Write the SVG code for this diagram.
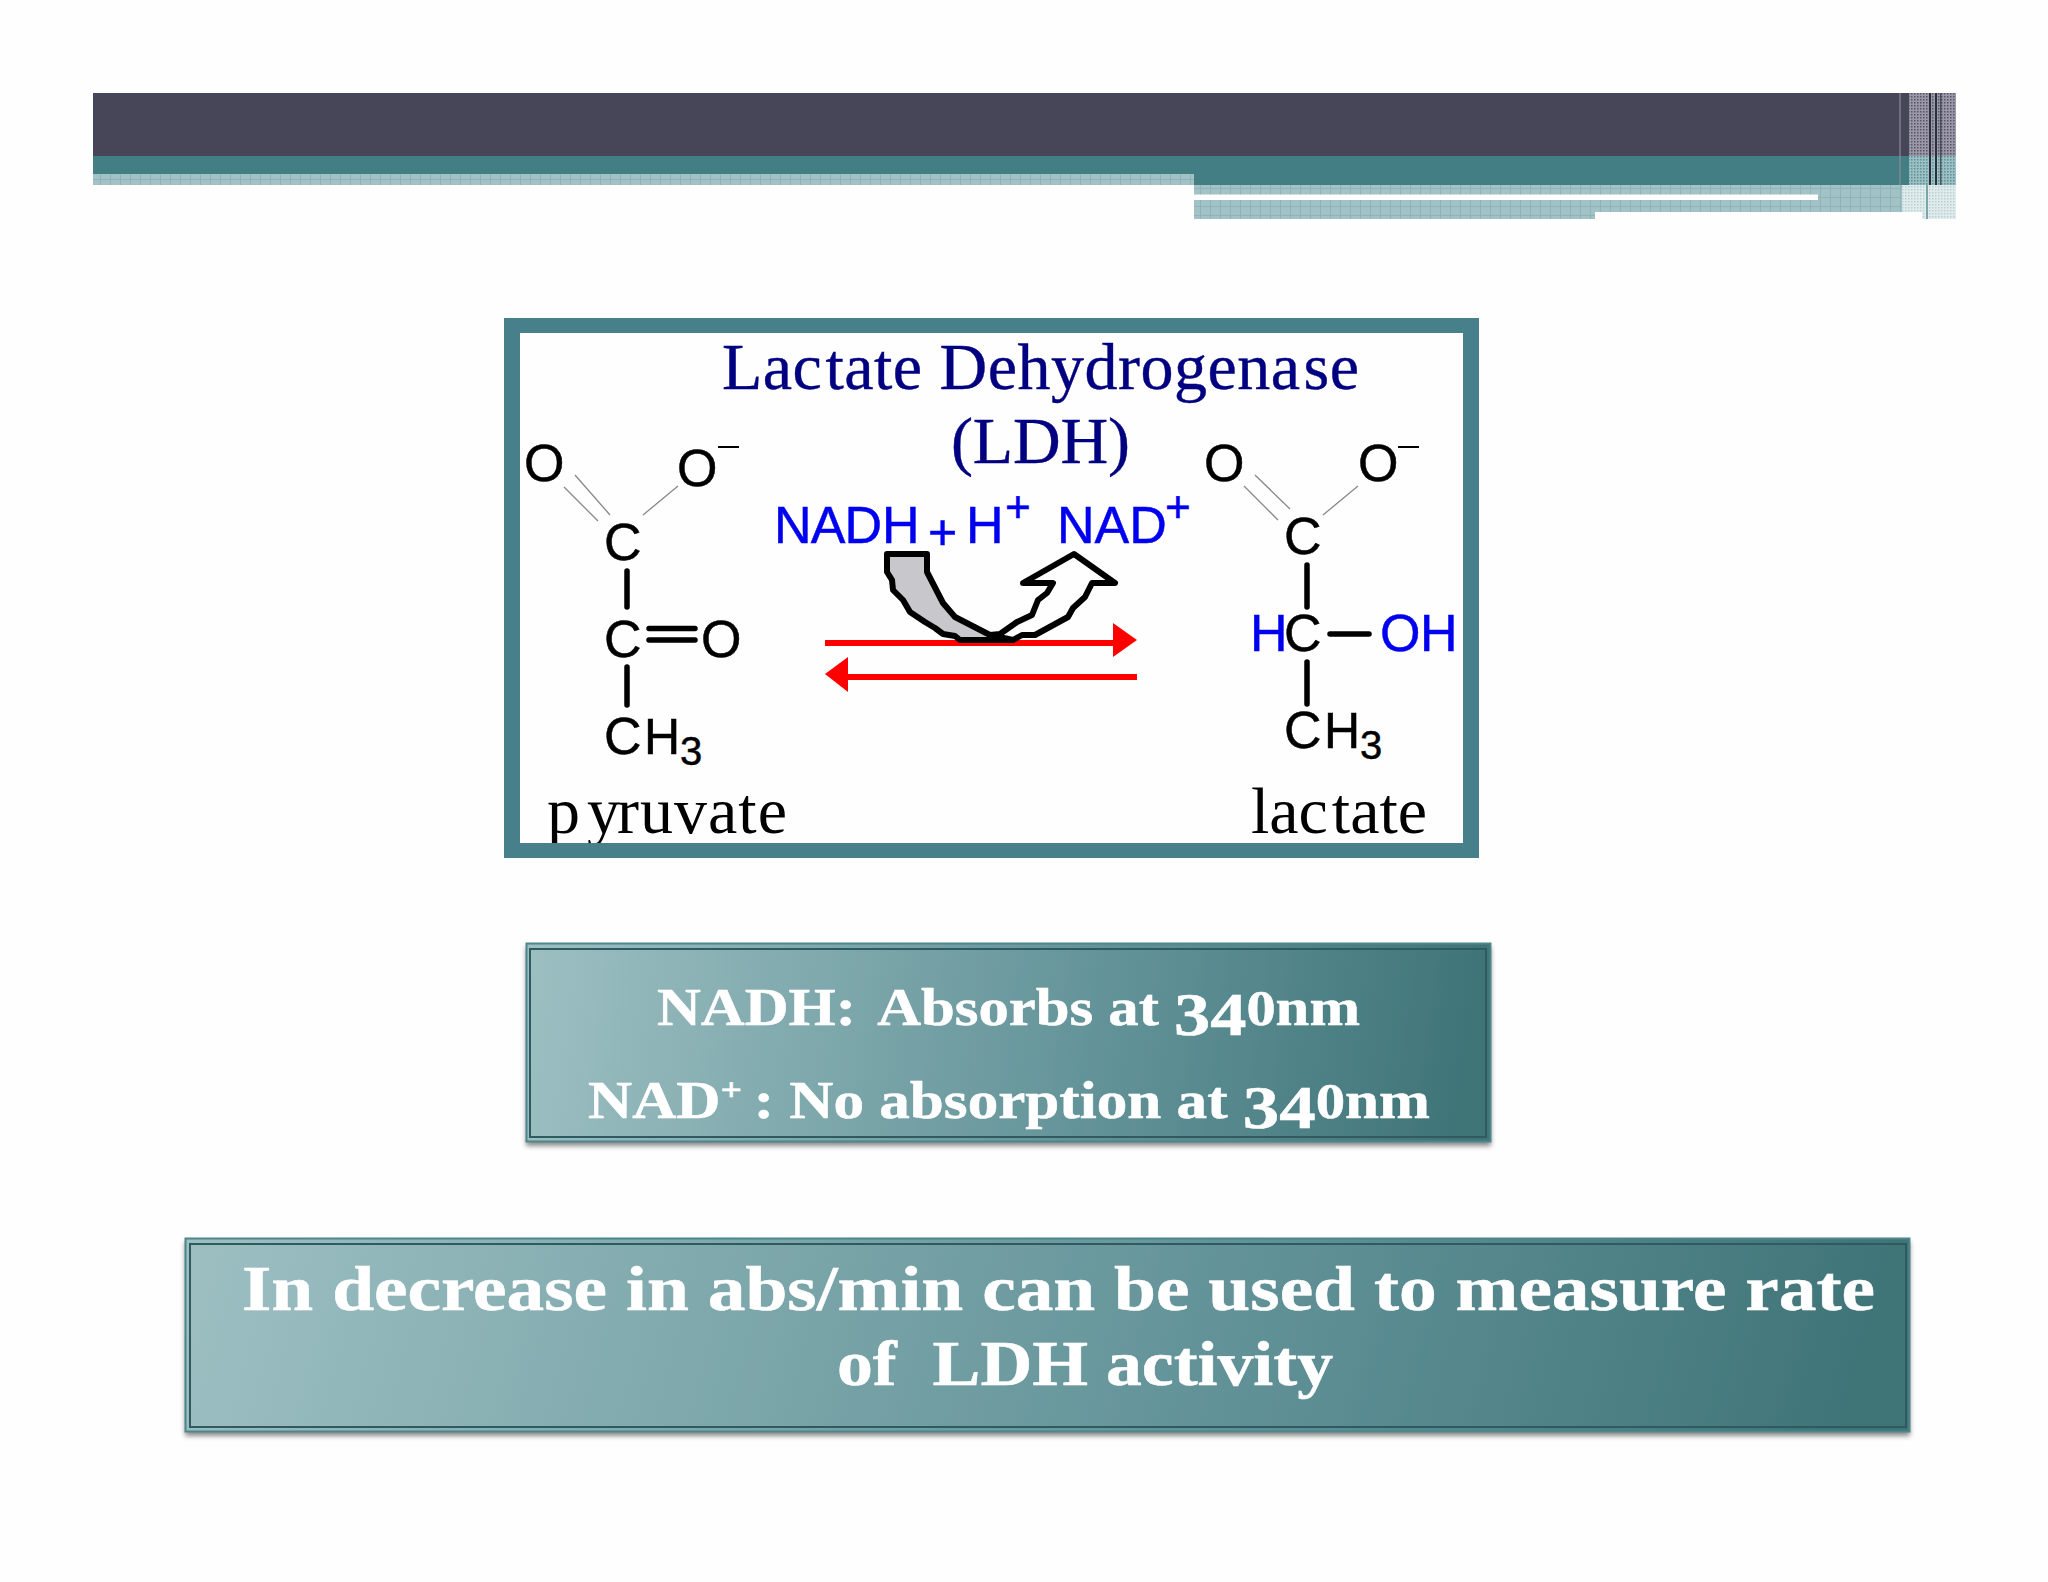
<svg xmlns="http://www.w3.org/2000/svg" width="2048" height="1582" viewBox="0 0 2048 1582">
<style>
.a{font-family:"Liberation Sans",Arial,sans-serif;font-size:52px;fill:#000;stroke:#000;stroke-width:.5}
.b{fill:#0000f0;stroke:#0000f0}
.s{font-size:40px}
.t{font-family:"Liberation Serif","Times New Roman",serif;font-size:66px;fill:#000}
.n{fill:#000080;stroke:#000080;stroke-width:.4}
.w{font-family:"Liberation Serif","Times New Roman",serif;font-weight:bold;fill:#fff;stroke:#fff;stroke-width:.5}
.w1{font-size:52px}
.w2{font-size:64px}
.bond{stroke:#000;stroke-width:5.500;stroke-linecap:round;fill:none}
.thin{stroke:#888;stroke-width:1.300;fill:none}
.minus{stroke:#000;stroke-width:2;fill:none}
.red{stroke:#f00;stroke-width:6;fill:none}
.rh{fill:#f00}
.cu{stroke:#000;stroke-width:6;stroke-linejoin:round}
</style>
<defs>
<pattern id="grid" width="10" height="9" patternUnits="userSpaceOnUse">
<rect width="10" height="9" fill="#a2c3c5"/>
<path d="M0.5 0V9M0 8.500H10" stroke="#8fb3b6" stroke-width="1"/>
</pattern>
<pattern id="dots" width="3" height="3" patternUnits="userSpaceOnUse">
<rect width="3" height="3" fill="#9a98a6"/><rect width="1.500" height="1.500" fill="#57546a"/>
</pattern>
<pattern id="dotsT" width="3" height="3" patternUnits="userSpaceOnUse">
<rect width="3" height="3" fill="#9cc0c3"/><rect width="1.500" height="1.500" fill="#5b9096"/>
</pattern>
<pattern id="dotsP" width="3" height="3" patternUnits="userSpaceOnUse">
<rect width="3" height="3" fill="#e0ecec"/><rect width="1.500" height="1.500" fill="#b8d0d2"/>
</pattern>
<linearGradient id="g1" x1="0" y1="0" x2="1" y2="0.03">
<stop offset="0" stop-color="#9dbfc2"/><stop offset="0.35" stop-color="#7ba6aa"/><stop offset="0.7" stop-color="#5a8c92"/><stop offset="1" stop-color="#3f7477"/>
</linearGradient>
<filter id="sh" x="-2%" y="-5%" width="104%" height="115%">
<feDropShadow dx="0" dy="4" stdDeviation="2.500" flood-color="#000" flood-opacity="0.45"/>
</filter>
</defs>
<rect width="2048" height="1582" fill="#fefefe"/>
<g id="header">
<rect x="93" y="93" width="1863" height="63" fill="#474558"/>
<rect x="93" y="156" width="1863" height="29" fill="#437e85"/>
<rect x="93" y="174" width="1101" height="11" fill="url(#grid)"/>
<rect x="1194" y="185" width="762" height="27" fill="url(#grid)"/>
<rect x="1194" y="212" width="401" height="7" fill="url(#grid)"/>
<rect x="1194" y="194.500" width="624" height="5.500" fill="#fefefe"/>
<rect x="1909" y="93" width="47" height="63" fill="url(#dots)"/>
<rect x="1899" y="93" width="2" height="92" fill="#8d8b9a" opacity="0.6"/>
<rect x="1909" y="156" width="47" height="29" fill="url(#dotsT)"/>
<rect x="1929" y="93" width="2" height="92" fill="#2e2d3c"/>
<rect x="1935" y="93" width="2" height="92" fill="#2e2d3c"/>
<rect x="1940" y="93" width="1.500" height="92" fill="#2e2d3c" opacity="0.7"/>
<rect x="1902" y="185" width="54" height="27" fill="url(#dotsP)"/>
<rect x="1922" y="212" width="34" height="7" fill="url(#dotsP)"/>
<rect x="1926" y="185" width="2" height="34" fill="#7aa5a9"/>
</g>
<g id="reaction-panel">
<rect x="512" y="325.500" width="959" height="525" fill="#fefefe"/>
<text class="t n" x="722" y="389" textLength="637" lengthAdjust="spacing">Lac<tspan dx="3">tate Dehydrogena</tspan><tspan dx="3">se</tspan></text>
<text class="t n" x="951" y="463" textLength="179" lengthAdjust="spacing">(LDH)</text>
</g>
<g id="pyruvate">
<text class="a" x="524" y="481">O</text>
<text class="a" x="677" y="486">O</text>
<path class="minus" d="M718 447H739"/>
<path class="thin" d="M564 487L598 521M575 475L610 515M678 486L643 515"/>
<text class="a" x="604" y="560">C</text>
<path class="bond" d="M627 571V607"/>
<text class="a" x="604" y="657">C</text>
<path class="bond" d="M649 628.500H695M649 640H695"/>
<text class="a" x="701" y="657">O</text>
<path class="bond" d="M627 667V705"/>
<text class="a" x="604" y="754">C</text>
<text class="a" x="644" y="754" style="font-size:50px">H</text>
<text class="a s" x="680" y="765">3</text>
<text class="t" x="547" y="833" textLength="240" lengthAdjust="spacing">p<tspan dx="6">y</tspan><tspan dx="-4">ruvate</tspan></text>
</g>
<g id="lactate">
<text class="a" x="1204" y="481">O</text>
<text class="a" x="1358" y="481">O</text>
<path class="minus" d="M1398 447H1419"/>
<path class="thin" d="M1244 486L1278 520M1255 475L1290 509M1358 486L1323 515"/>
<text class="a" x="1284" y="554">C</text>
<path class="bond" d="M1307 565V607"/>
<text class="a b" x="1250" y="651">H</text>
<text class="a" x="1284" y="651">C</text>
<path class="bond" d="M1330 634H1369"/>
<text class="a b" x="1380" y="651">O</text>
<text class="a b" x="1420" y="651">H</text>
<path class="bond" d="M1307 662V704"/>
<text class="a" x="1284" y="748">C</text>
<text class="a" x="1324" y="748" style="font-size:50px">H</text>
<text class="a s" x="1360" y="759">3</text>
<text class="t" x="1251" y="833" textLength="176" lengthAdjust="spacing">lac<tspan dx="4">tate</tspan></text>
</g>
<g id="cofactors">
<text class="a b" x="774" y="543" textLength="108">NAD</text>
<text class="a b" x="882" y="543">H</text>
<text class="a b" x="928" y="549" style="font-size:50px">+</text>
<text class="a b" x="966" y="543">H</text>
<text class="a b" x="1005" y="522" style="font-size:44px">+</text>
<text class="a b" x="1057" y="543">NAD</text>
<text class="a b" x="1165" y="522" style="font-size:44px">+</text>
</g>
<g id="connectors">
<path class="red" d="M825 643H1115"/>
<polygon class="rh" points="1113,623 1137,640 1113,657"/>
<path class="red" d="M847 677H1137"/>
<polygon class="rh" points="825,674 848,657 848,692"/>
<polygon class="cu" fill="#fefefe" points="990,635 1000,634 1017,622 1032,615 1038,600 1047,593 1053,583 1023,583 1074,554 1115,583 1092,583 1085,597 1073,608 1068,617 1035,635 1022,635 1013,640 990,640"/>
<polygon class="cu" fill="#c8c8cc" points="887,554 927,554 927,572 943,603 955,617 990,635 1013,640 960,640 955,636 943,634 935,628 925,622 910,612 903,600 893,590 892,580 887,572"/>
</g>
<rect x="504" y="318" width="975" height="15" fill="#47808a"/>
<rect x="504" y="843" width="975" height="15" fill="#47808a"/>
<rect x="504" y="318" width="16" height="540" fill="#47808a"/>
<rect x="1463" y="318" width="16" height="540" fill="#47808a"/>
<g id="absorbance-box">
<rect x="526" y="943" width="965" height="199" fill="url(#g1)" filter="url(#sh)"/>
<rect x="526.500" y="943.500" width="964" height="198" fill="none" stroke="#4d868b" stroke-width="2"/>
<rect x="530" y="949" width="956" height="188" fill="none" stroke="#2f5a60" stroke-width="2"/>
<text class="w w1" x="657" y="1025" textLength="703" lengthAdjust="spacingAndGlyphs">NADH: <tspan dx="8">Absorbs at </tspan><tspan dy="10" font-size="62">3</tspan><tspan font-size="62">4</tspan><tspan dy="-10" font-size="50">0</tspan>nm</text>
<text class="w w1" x="588" y="1118" textLength="842" lengthAdjust="spacingAndGlyphs">NAD<tspan font-size="32" dy="-18">+</tspan><tspan dy="18" dx="-3"> : No absorption at </tspan><tspan dy="10" font-size="62">3</tspan><tspan font-size="62">4</tspan><tspan dy="-10" font-size="50">0</tspan>nm</text>
</g>
<g id="conclusion-box">
<rect x="185" y="1238" width="1725" height="194" fill="url(#g1)" filter="url(#sh)"/>
<rect x="185.500" y="1238.500" width="1724" height="193" fill="none" stroke="#4d868b" stroke-width="2"/>
<rect x="190" y="1244" width="1716" height="183" fill="none" stroke="#2f5a60" stroke-width="2"/>
<text class="w w2" x="242" y="1310" textLength="1633" lengthAdjust="spacingAndGlyphs">In decrease in abs/min can be used to measure rate</text>
<text class="w w2" x="837" y="1385" textLength="496" lengthAdjust="spacingAndGlyphs">of&#160; LDH activity</text>
</g>
</svg>
